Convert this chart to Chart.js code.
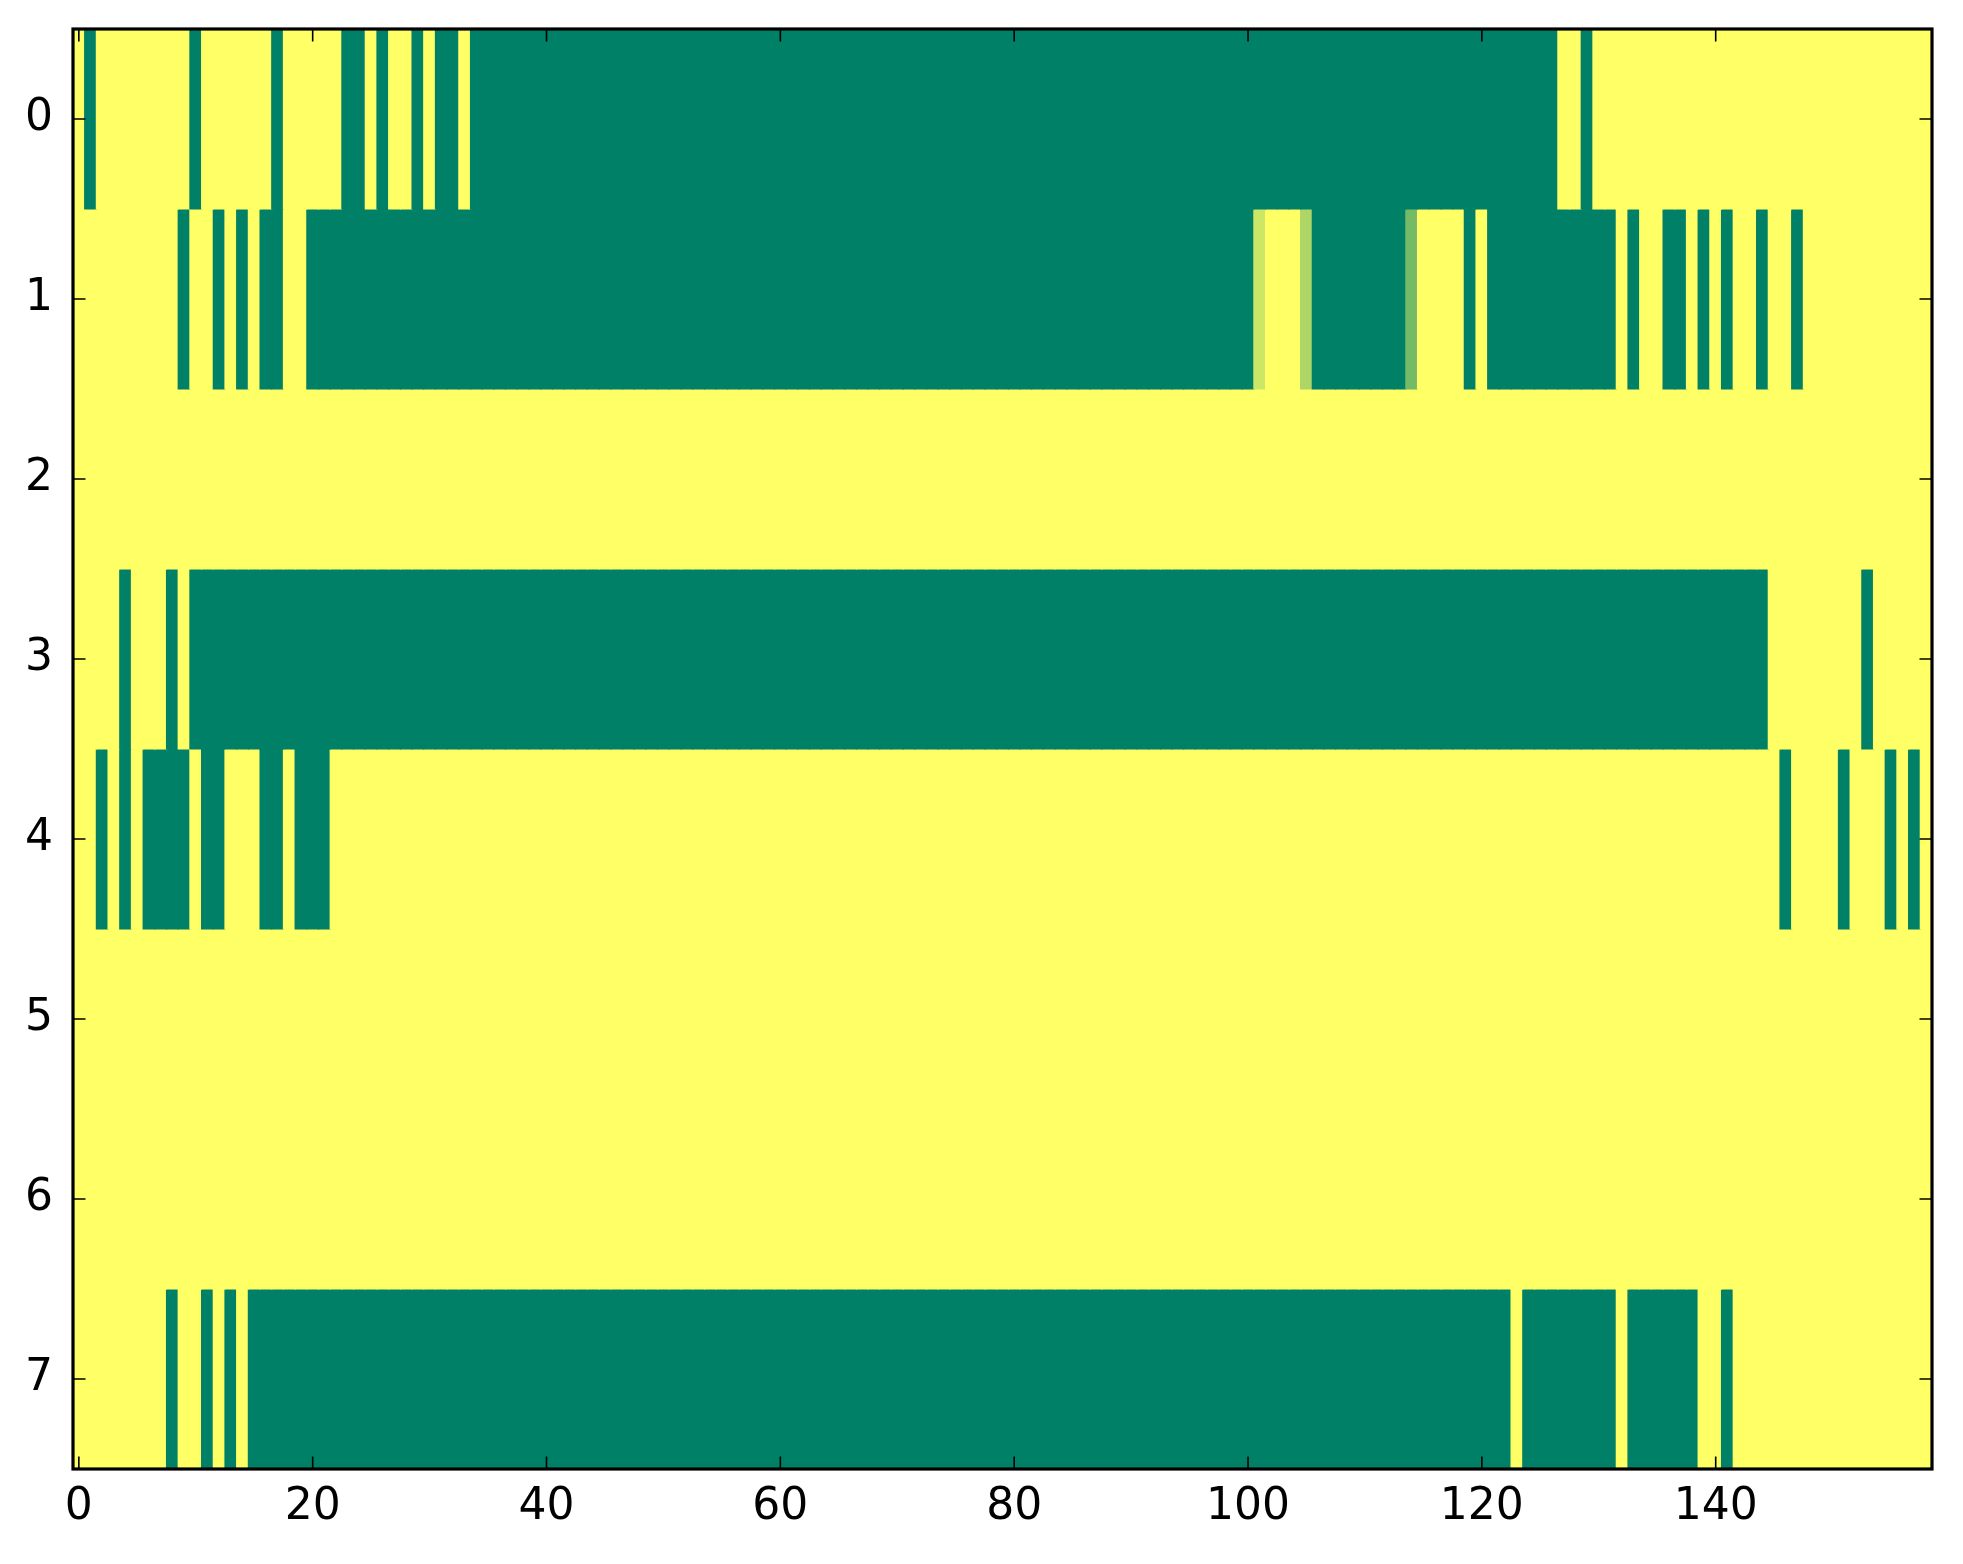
<!DOCTYPE html>
<html lang="en">
<head>
  <meta charset="UTF-8" />
  <title>Binary heatmap</title>
  <script src="https://cdn.jsdelivr.net/npm/chart.js"></script>
  <style>
    html, body { margin: 0; padding: 0; background: #fff; overflow: hidden; }
    canvas { display: block; }
  </style>
</head>
<body>
  <canvas id="heat" width="1963" height="1564"></canvas>
  <script>
    const xTicks = [0, 20, 40, 60, 80, 100, 120, 140];
    const yTicks = [0, 1, 2, 3, 4, 5, 6, 7];

    // one array per image row, one value per column (0 = green, 1 = yellow)
    const row0 = [
      1,0,1,1,1,1,1,1,1,1, 0,1,1,1,1,1,1,0,1,1,
      1,1,1,0,0,1,0,1,1,0, 1,0,0,1,0,0,0,0,0,0,
      0,0,0,0,0,0,0,0,0,0, 0,0,0,0,0,0,0,0,0,0,
      0,0,0,0,0,0,0,0,0,0, 0,0,0,0,0,0,0,0,0,0,
      0,0,0,0,0,0,0,0,0,0, 0,0,0,0,0,0,0,0,0,0,
      0,0,0,0,0,0,0,0,0,0, 0,0,0,0,0,0,0,0,0,0,
      0,0,0,0,0,0,0,1,1,0, 1,1,1,1,1,1,1,1,1,1,
      1,1,1,1,1,1,1,1,1,1, 1,1,1,1,1,1,1,1,1
    ];
    const row1 = [
      1,1,1,1,1,1,1,1,1,0, 1,1,0,1,0,1,0,0,1,1,
      0,0,0,0,0,0,0,0,0,0, 0,0,0,0,0,0,0,0,0,0,
      0,0,0,0,0,0,0,0,0,0, 0,0,0,0,0,0,0,0,0,0,
      0,0,0,0,0,0,0,0,0,0, 0,0,0,0,0,0,0,0,0,0,
      0,0,0,0,0,0,0,0,0,0, 0,0,0,0,0,0,0,0,0,0,
      0,0.8,1,1,1,0.68,0,0,0,0, 0,0,0,0,0.46,1,1,1,1,0,
      1,0,0,0,0,0,0,0,0,0, 0,0,1,0,1,1,0,0,1,0,
      1,0,1,1,0,1,1,0,1,1, 1,1,1,1,1,1,1,1,1
    ];
    const row2 = [
      1,1,1,1,1,1,1,1,1,1, 1,1,1,1,1,1,1,1,1,1,
      1,1,1,1,1,1,1,1,1,1, 1,1,1,1,1,1,1,1,1,1,
      1,1,1,1,1,1,1,1,1,1, 1,1,1,1,1,1,1,1,1,1,
      1,1,1,1,1,1,1,1,1,1, 1,1,1,1,1,1,1,1,1,1,
      1,1,1,1,1,1,1,1,1,1, 1,1,1,1,1,1,1,1,1,1,
      1,1,1,1,1,1,1,1,1,1, 1,1,1,1,1,1,1,1,1,1,
      1,1,1,1,1,1,1,1,1,1, 1,1,1,1,1,1,1,1,1,1,
      1,1,1,1,1,1,1,1,1,1, 1,1,1,1,1,1,1,1,1
    ];
    const row3 = [
      1,1,1,1,0,1,1,1,0,1, 0,0,0,0,0,0,0,0,0,0,
      0,0,0,0,0,0,0,0,0,0, 0,0,0,0,0,0,0,0,0,0,
      0,0,0,0,0,0,0,0,0,0, 0,0,0,0,0,0,0,0,0,0,
      0,0,0,0,0,0,0,0,0,0, 0,0,0,0,0,0,0,0,0,0,
      0,0,0,0,0,0,0,0,0,0, 0,0,0,0,0,0,0,0,0,0,
      0,0,0,0,0,0,0,0,0,0, 0,0,0,0,0,0,0,0,0,0,
      0,0,0,0,0,0,0,0,0,0, 0,0,0,0,0,0,0,0,0,0,
      0,0,0,0,0,1,1,1,1,1, 1,1,1,0,1,1,1,1,1
    ];
    const row4 = [
      1,1,0,1,0,1,0,0,0,0, 1,0,0,1,1,1,0,0,1,0,
      0,0,1,1,1,1,1,1,1,1, 1,1,1,1,1,1,1,1,1,1,
      1,1,1,1,1,1,1,1,1,1, 1,1,1,1,1,1,1,1,1,1,
      1,1,1,1,1,1,1,1,1,1, 1,1,1,1,1,1,1,1,1,1,
      1,1,1,1,1,1,1,1,1,1, 1,1,1,1,1,1,1,1,1,1,
      1,1,1,1,1,1,1,1,1,1, 1,1,1,1,1,1,1,1,1,1,
      1,1,1,1,1,1,1,1,1,1, 1,1,1,1,1,1,1,1,1,1,
      1,1,1,1,1,1,0,1,1,1, 1,0,1,1,1,0,1,0,1
    ];
    const row5 = row2.slice();
    const row6 = row2.slice();
    const row7 = [
      1,1,1,1,1,1,1,1,0,1, 1,0,1,0,1,0,0,0,0,0,
      0,0,0,0,0,0,0,0,0,0, 0,0,0,0,0,0,0,0,0,0,
      0,0,0,0,0,0,0,0,0,0, 0,0,0,0,0,0,0,0,0,0,
      0,0,0,0,0,0,0,0,0,0, 0,0,0,0,0,0,0,0,0,0,
      0,0,0,0,0,0,0,0,0,0, 0,0,0,0,0,0,0,0,0,0,
      0,0,0,0,0,0,0,0,0,0, 0,0,0,0,0,0,0,0,0,0,
      0,0,0,1,0,0,0,0,0,0, 0,0,1,0,0,0,0,0,0,1,
      1,0,1,1,1,1,1,1,1,1, 1,1,1,1,1,1,1,1,1
    ];
    const rows = [row0, row1, row2, row3, row4, row5, row6, row7];
    const nCols = row0.length;

    // matplotlib "summer" colormap
    function summer(v) {
      return 'rgb(' + Math.round(255 * v) + ',' + Math.round(127.5 + 127.5 * v) + ',102)';
    }

    const datasets = rows.map((vals, r) => ({
      data: vals.map((v, c) => ({ x: c, y: [r - 0.5, r + 0.5] })),
      backgroundColor: vals.map(summer),
      borderWidth: 0,
      inflateAmount: 0.6,
      grouped: false,
      categoryPercentage: 1,
      barPercentage: 1
    }));

    // inward tick marks on all four sides plus the black frame
    const frame = {
      id: 'frame',
      afterDatasetsDraw(chart) {
        const { ctx, chartArea: a, scales: { x, y } } = chart;
        const len = 12.5;
        ctx.save();
        ctx.strokeStyle = '#000';
        ctx.lineWidth = 1.6;
        ctx.beginPath();
        x.ticks.forEach(t => {
          const px = x.getPixelForValue(t.value);
          ctx.moveTo(px, a.bottom); ctx.lineTo(px, a.bottom - len);
          ctx.moveTo(px, a.top); ctx.lineTo(px, a.top + len);
        });
        y.ticks.forEach(t => {
          const py = y.getPixelForValue(t.value);
          ctx.moveTo(a.left, py); ctx.lineTo(a.left + len, py);
          ctx.moveTo(a.right, py); ctx.lineTo(a.right - len, py);
        });
        ctx.stroke();
        ctx.lineWidth = 3.2;
        ctx.strokeRect(a.left, a.top, a.right - a.left, a.bottom - a.top);
        ctx.restore();
      }
    };

    Chart.defaults.font.family = '"DejaVu Sans", sans-serif';
    Chart.defaults.color = '#000';

    new Chart(document.getElementById('heat'), {
      type: 'bar',
      data: { datasets: datasets },
      plugins: [frame],
      options: {
        responsive: false,
        devicePixelRatio: 1,
        animation: false,
        layout: { padding: { top: 29, right: 31, left: 0, bottom: 0 } },
        plugins: { legend: { display: false }, tooltip: { enabled: false } },
        scales: {
          x: {
            type: 'linear',
            min: -0.5,
            max: nCols - 0.5,
            offset: false,
            grid: { display: false, drawTicks: false },
            border: { display: false },
            ticks: { font: { size: 44 }, padding: 12, maxRotation: 0 },
            afterBuildTicks: s => { s.ticks = xTicks.map(v => ({ value: v })); },
            afterFit: s => { s.height = 95; s.paddingLeft = 0; s.paddingRight = 0; }
          },
          y: {
            type: 'linear',
            reverse: true,
            min: -0.5,
            max: rows.length - 0.5,
            grid: { display: false, drawTicks: false },
            border: { display: false },
            ticks: { font: { size: 44 }, padding: 20 },
            afterBuildTicks: s => { s.ticks = yTicks.map(v => ({ value: v })); },
            afterFit: s => { s.width = 73; s.paddingTop = 0; s.paddingBottom = 0; }
          }
        }
      }
    });
  </script>
</body>
</html>
